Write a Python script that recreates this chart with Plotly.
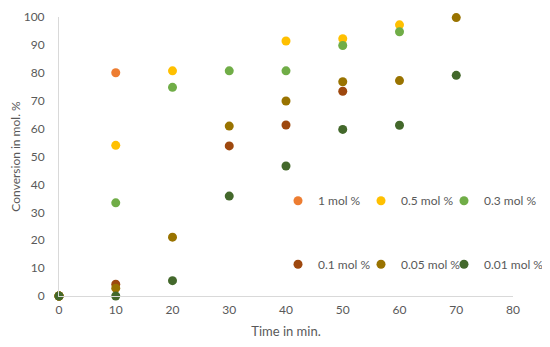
import plotly.graph_objects as go

series_names = ["1 mol %", "0.5 mol %", "0.3 mol %", "0.1 mol %", "0.05 mol %", "0.01 mol %"]
colors = ["#ED7D31", "#FFC000", "#70AD47", "#9E480E", "#997300", "#43682B"]

x_1 = [0, 10]
y_1 = [0, 80]
x_05 = [0, 10, 20, 40, 50, 60]
y_05 = [0, 54, 80.7, 91.4, 92.2, 97.2]
x_03 = [0, 10, 20, 30, 40, 50, 60]
y_03 = [0, 33.4, 74.8, 80.7, 80.7, 89.8, 94.7]
x_01 = [0, 10, 30, 40, 50]
y_01 = [0, 4.2, 53.8, 61.3, 73.4]
x_005 = [0, 10, 20, 30, 40, 50, 60, 70]
y_005 = [0, 2.8, 21.1, 60.9, 69.9, 76.8, 77.2, 99.8]
x_001 = [0, 10, 20, 30, 40, 50, 60, 70]
y_001 = [0, 0, 5.5, 35.8, 46.6, 59.7, 61.2, 79.1]

xs = [x_1, x_05, x_03, x_01, x_005, x_001]
ys = [y_1, y_05, y_03, y_01, y_005, y_001]

x_ticks = [0, 10, 20, 30, 40, 50, 60, 70, 80]
y_ticks = [0, 10, 20, 30, 40, 50, 60, 70, 80, 90, 100]

FONT = "Lato"
GREY = "#595959"

# legend grid: 3 columns x 2 rows, one legend per entry
legend_cols = [0.4824, 0.6652, 0.8480]
legend_rows = [0.3416, 0.1136]
legend_ids = ["legend", "legend2", "legend3", "legend4", "legend5", "legend6"]

fig = go.Figure()
for i, (name, c, x, y) in enumerate(zip(series_names, colors, xs, ys)):
    fig.add_trace(go.Scatter(
        x=x, y=y, mode="markers", name=name,
        marker=dict(color=c, size=9),
        cliponaxis=False,
        legend=legend_ids[i],
    ))

legend_layout = {}
for i, lid in enumerate(legend_ids):
    legend_layout[lid] = dict(
        orientation="h", xanchor="left", yanchor="middle",
        x=legend_cols[i % 3], y=legend_rows[i // 3],
        font=dict(family=FONT, size=12, color=GREY),
        bgcolor="rgba(0,0,0,0)", itemwidth=30,
    )

# page body has an 8px default margin; figure sized to fit the 550x347 window
fig.update_layout(
    width=534, height=331,
    margin=dict(l=51, r=29, t=9, b=43, autoexpand=False),
    paper_bgcolor="white", plot_bgcolor="white",
    font=dict(family=FONT, size=12, color=GREY),
    showlegend=True,
    xaxis=dict(
        range=[0, 80], tickvals=x_ticks, showgrid=False, zeroline=False,
        showline=True, linecolor="#D9D9D9", linewidth=1, ticks="",
        ticklabelstandoff=3, automargin=False,
        title=dict(text="Time in min.", font=dict(family=FONT, size=13, color=GREY), standoff=15),
    ),
    yaxis=dict(
        range=[0, 100], tickvals=y_ticks, showgrid=False, zeroline=False,
        showline=True, linecolor="#D9D9D9", linewidth=1, ticks="",
        ticklabelstandoff=11, automargin=False,
        title=dict(text="Conversion in mol. %", font=dict(family=FONT, size=12, color=GREY), standoff=2),
    ),
    **legend_layout,
)

fig.write_html("out.html")
